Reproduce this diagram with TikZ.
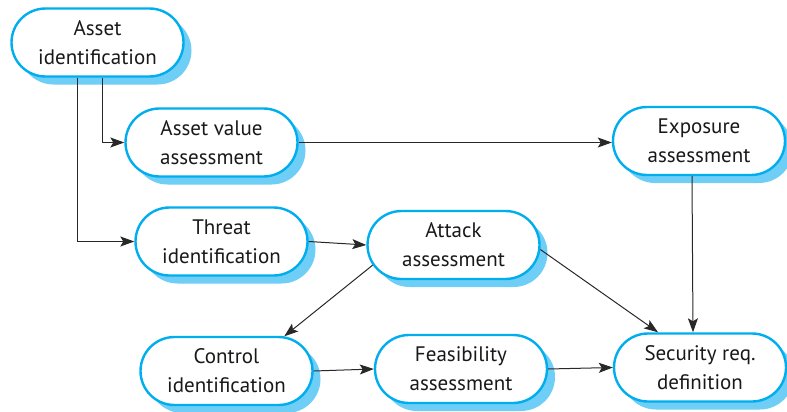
\documentclass[tikz,border=0pt]{standalone}
\usepackage{fontspec}
\setmainfont{PT Sans}
\usetikzlibrary{shapes.misc,shadows,arrows.meta}
\definecolor{bordercyan}{RGB}{0,174,239}
\definecolor{shadowblue}{RGB}{110,206,246}
\definecolor{linegray}{RGB}{40,40,40}
\tikzset{
  proc/.style={rounded rectangle, draw=bordercyan, line width=2.4pt, fill=white,
    minimum width=172pt, minimum height=68pt, inner sep=0pt, align=center,
    font=\fontsize{21pt}{29pt}\selectfont, text=black!90,
    general shadow={fill=shadowblue, shadow xshift=8pt, shadow yshift=-8pt, draw=none}},
  arr/.style={draw=linegray, line width=1pt, -{Stealth[length=14pt,width=10pt,inset=3pt]}}
}
\begin{document}
\begin{tikzpicture}[x=1pt,y=-1pt]
\useasboundingbox (0,0) rectangle (787,412);
\node[proc] (ai) at (97.5,42.5) {Asset\\identification};
\node[proc] (ava) at (211.5,142.5) {Asset value\\assessment};
\node[proc] (ti) at (221.5,241.5) {Threat\\identification};
\node[proc] (aa) at (453.5,245) {Attack\\assessment};
\node[proc] (ea) at (699,141) {Exposure\\assessment};
\node[proc] (ci) at (226.5,371) {Control\\identification};
\node[proc] (fa) at (461,369) {Feasibility\\assessment};
\node[proc] (sr) at (700,367.5) {Security req.\\definition};
\draw[arr] ([xshift=4.5pt]ai.south) |- (ava.west);
\draw[arr] ([xshift=-20.5pt]ai.south) |- (ti.west);
\draw[arr] (ava.east) -- (ava.east -| ea.west);
\draw[arr] (ti.east) -- (aa.west);
\draw[arr] (aa.194) -- (ci.31);
\draw[arr] (aa.-3) -- (sr.140);
\draw[arr] ([xshift=-7pt]ea.south) -- ([xshift=-7pt]sr.north);
\draw[arr] (ci.east) -- (fa.west);
\draw[arr] (fa.east) -- (sr.west);
\end{tikzpicture}
\end{document}
